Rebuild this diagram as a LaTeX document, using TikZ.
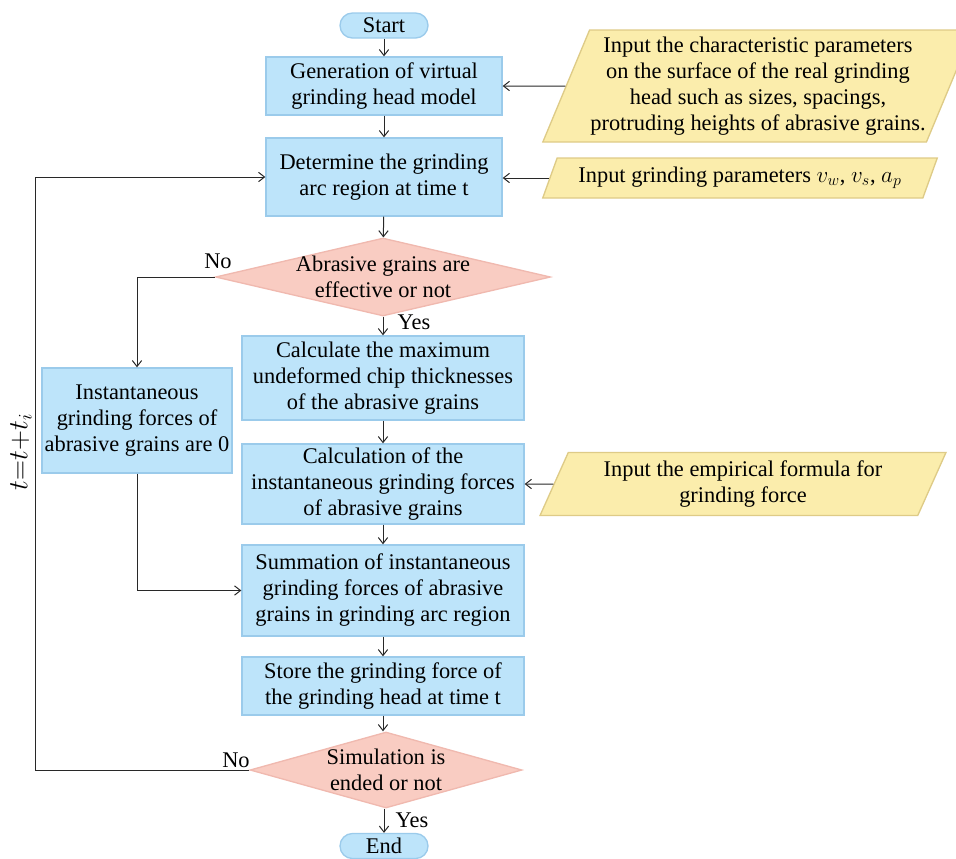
\documentclass[tikz,border=0pt]{standalone}
\usepackage{fontspec}
\setmainfont{Liberation Serif}
\usepackage{amsmath}
\usetikzlibrary{shapes.geometric,arrows.meta}

\definecolor{procfill}{RGB}{189,228,250}
\definecolor{procdraw}{RGB}{155,203,235}
\definecolor{decfill}{RGB}{249,204,194}
\definecolor{decdraw}{RGB}{240,185,175}
\definecolor{iofill}{RGB}{251,237,172}
\definecolor{iodraw}{RGB}{222,203,135}
\definecolor{flowline}{RGB}{40,40,40}

\begin{document}
\begin{tikzpicture}[x=0.75pt,y=0.75pt,yscale=-1,xscale=1,
  every node/.style={font=\fontsize{16.8}{19.5}\selectfont, inner sep=0.75pt},
  process/.style={rectangle, draw=procdraw, fill=procfill, line width=1pt, align=center},
  terminal/.style={rectangle, rounded corners=9.3pt, draw=procdraw, fill=procfill, line width=1pt, minimum width=66pt, minimum height=18.75pt},
  decision/.style={diamond, draw=decdraw, fill=decfill, line width=1pt, inner sep=0pt},
  dataio/.style={trapezium, trapezium stretches=true, draw=iodraw, fill=iofill, line width=1pt, align=center},
  flow/.style={-{Straight Barb[length=4.5pt,width=7pt]}, draw=flowline, line width=0.75pt}]
\useasboundingbox (0,0) rectangle (956,858);

% Terminals
\node [terminal] (start) at (384,25.5) {Start};
\node [terminal] (end) at (384,846) {End};

% Process boxes
\node [process, minimum width=177pt, minimum height=43.5pt] (gen) at (384,86) {Generation of virtual\\grinding head model};
\node [process, minimum width=177pt, minimum height=58.5pt] (arc) at (384,177) {Determine the grinding\\arc region at time t};
\node [process, minimum width=211.5pt, minimum height=63pt] (chip) at (383,378) {Calculate the maximum\\undeformed chip thicknesses\\of the abrasive grains};
\node [process, minimum width=211.5pt, minimum height=60pt] (force) at (383,484) {Calculation of the\\instantaneous grinding forces\\of abrasive grains};
\node [process, minimum width=211.5pt, minimum height=68.25pt] (summ) at (383,590.5) {Summation of instantaneous\\grinding forces of abrasive\\grains in grinding arc region};
\node [process, minimum width=211.5pt, minimum height=43.5pt] (store) at (383,686) {Store the grinding force of\\the grinding head at time t};
\node [process, minimum width=142.5pt, minimum height=78.75pt] (zero) at (137,420.5) {Instantaneous\\grinding forces of\\abrasive grains are 0};

% Decisions
\node [decision, minimum width=251.25pt, minimum height=58.5pt] (eff) at (383,277) {};
\node [align=center] (efftext) at (eff) {Abrasive grains are\\effective or not};
\node [decision, minimum width=204pt, minimum height=57pt] (sim) at (386,770) {};
\node [align=center] (simtext) at (sim) {Simulation is\\ended or not};

% Inputs
\node [dataio, trapezium left angle=65, trapezium right angle=115, minimum width=324pt, minimum height=84pt] (inpar) at (758,86) {Input the characteristic parameters\\on the surface of the real grinding\\head such as sizes, spacings,\\protruding heights of abrasive grains.};
\node [dataio, trapezium left angle=62, trapezium right angle=118, minimum width=296pt, minimum height=30pt] (ingrind) at (740,178) {Input grinding parameters $v_w$, $v_s$, $a_p$};
\node [dataio, trapezium left angle=65, trapezium right angle=115, minimum width=304.5pt, minimum height=47.25pt] (inform) at (743,484) {Input the empirical formula for\\grinding force};

% Labels
\node (yes1) at (414,322) {Yes};
\node (yes2) at (412,820) {Yes};
\node (no1) at (218,261) {No};
\node (no2) at (236,760) {No};
\node [rotate=90, font=\fontsize{21}{24}\selectfont] (tstep) at (21,452) {$t{=}t{+}t_i$};

% Main flow
\draw [flow] (start) -- (gen);
\draw [flow] (gen) -- (arc);
\draw [flow] (arc) -- (eff);
\draw [flow] (eff) -- (chip);
\draw [flow] (chip) -- (force);
\draw [flow] (force) -- (summ);
\draw [flow] (summ) -- (store);
\draw [flow] (store.south) -- (store.south |- sim.north);
\draw [flow] (sim.south -| end) -- (end);

% Inputs to boxes
\draw [flow] (inpar.west) -- (gen.east);
\draw [flow] (ingrind.west) -- (arc.east |- ingrind.west);
\draw [flow] (inform.west) -- (force.east);

% Branches
\draw [flow] (eff.west) -| (zero.north);
\draw [flow] (zero.south) |- (summ.west);
\coordinate (loop) at (35,770);
\draw [flow] (sim.west) -- (loop) |- (arc.west);

\end{tikzpicture}
\end{document}
